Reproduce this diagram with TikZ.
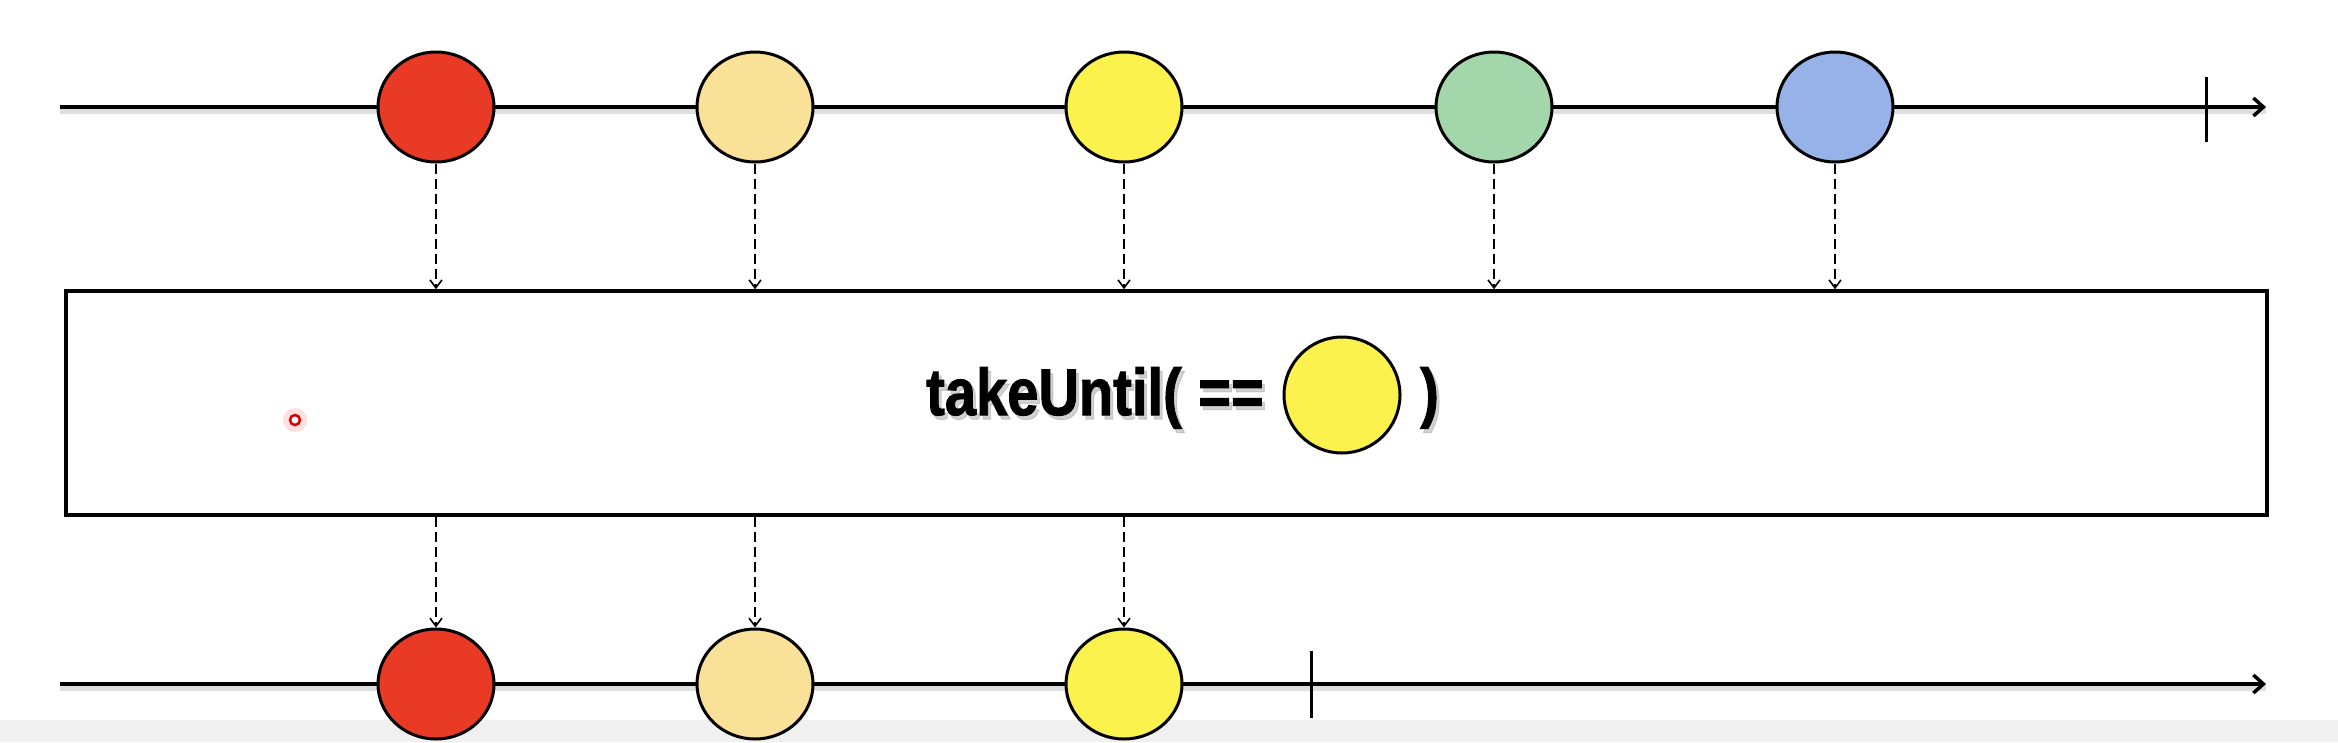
\documentclass[tikz,border=0pt]{standalone}
\usepackage{fontspec}
\usepackage{graphicx}
\setmainfont{Liberation Sans}
\newfontface\opfont[FakeBold=1.6]{Liberation Sans Bold}
\usetikzlibrary{arrows.meta,shapes.geometric}
\definecolor{cred}{HTML}{E93A26}
\definecolor{cbeige}{HTML}{F9E197}
\definecolor{cyellow}{HTML}{FBF24E}
\definecolor{cgreen}{HTML}{A3D6AA}
\definecolor{cblue}{HTML}{97B2E9}
\definecolor{band}{HTML}{F0F0F0}
\tikzset{
  timeline/.style={line width=4.5pt, black, -{Straight Barb[length=10pt,width=18pt,line width=3.5pt]}},
  lineshadow/.style={line width=6pt, black!25, opacity=0.5},
  endtick/.style={line width=3pt, black},
  marble/.style={ellipse, draw=black, line width=3pt, minimum width=116pt, minimum height=110pt, inner sep=0pt},
  dasharrow/.style={line width=1.8pt, dash pattern=on 10pt off 5pt, -{Straight Barb[length=8pt,width=12pt,line width=1.6pt]}},
  opbox/.style={draw=black, line width=3.5pt, fill=white, minimum width=2201pt, minimum height=224pt, inner sep=0pt},
  optext/.style={inner sep=0pt, font=\fontsize{66}{80}\selectfont\opfont},
  opshadow/.style={optext, text=black!35, opacity=0.5},
}
\newcommand{\condtxt}[1]{\scalebox{0.85}[1]{#1}}
\begin{document}
\begin{tikzpicture}[x=1pt,y=-1pt]
\useasboundingbox (0,0) rectangle (2338,742);
\fill[white] (0,0) rectangle (2338,742);
\fill[band] (0,720) rectangle (2338,742);
% timelines
\coordinate (ts) at (60,107);
\coordinate (te) at (2266,107);
\coordinate (bs) at (60,684);
\coordinate (be) at (2266,684);
\draw[lineshadow] ([yshift=-4pt]ts) -- ([yshift=-4pt]te);
\draw[lineshadow] ([yshift=-4pt]bs) -- ([yshift=-4pt]be);
\draw[timeline] (ts) -- (te);
\draw[timeline] (bs) -- (be);
% end ticks
\coordinate (tka) at (2206,77);
\coordinate (tkb) at (2206,142);
\coordinate (bka) at (1311,651);
\coordinate (bkb) at (1311,718);
\draw[endtick] (tka) -- (tkb);
\draw[endtick] (bka) -- (bkb);
% top marbles
\node[marble, fill=cred]    (t1) at (436,107) {};
\node[marble, fill=cbeige]  (t2) at (755,107) {};
\node[marble, fill=cyellow] (t3) at (1124,107) {};
\node[marble, fill=cgreen]  (t4) at (1494,107) {};
\node[marble, fill=cblue]   (t5) at (1835,107) {};
% operator box
\node[opbox] (box) at (1166.5,403) {};
% label
\node[opshadow, anchor=base west] at (929,419) {\condtxt{takeUntil(}};
\node[optext, anchor=base west] (lbl) at (926,415) {\condtxt{takeUntil(}};
\node[opshadow, anchor=base west] at (1201,419) {\condtxt{==}};
\node[optext, anchor=base west] (eq) at (1198,415) {\condtxt{==}};
\node[marble, fill=cyellow, minimum width=116pt, minimum height=116pt] (cond) at (1342,395) {};
\node[opshadow, anchor=base west] at (1423,419) {\condtxt{)}};
\node[optext, anchor=base west] (rp) at (1420,415) {\condtxt{)}};
% cursor mark
\node[circle, fill=red!20, opacity=0.6, minimum size=24pt, inner sep=0pt] (cur) at (295,420) {};
\node[circle, draw=red!85!black, line width=2.5pt, fill=white, minimum size=10pt, inner sep=0pt] at (cur) {};
% bottom marbles
\node[marble, fill=cred]    (b1) at (436,684) {};
\node[marble, fill=cbeige]  (b2) at (755,684) {};
\node[marble, fill=cyellow] (b3) at (1124,684) {};
% dashed connectors
\foreach \m in {t1,t2,t3,t4,t5}{
  \draw[dasharrow] (\m.south) -- (\m.south |- box.north);
}
\foreach \t/\b in {t1/b1,t2/b2,t3/b3}{
  \draw[dasharrow] (\t.south |- box.south) -- (\b.north);
}
\end{tikzpicture}
\end{document}
